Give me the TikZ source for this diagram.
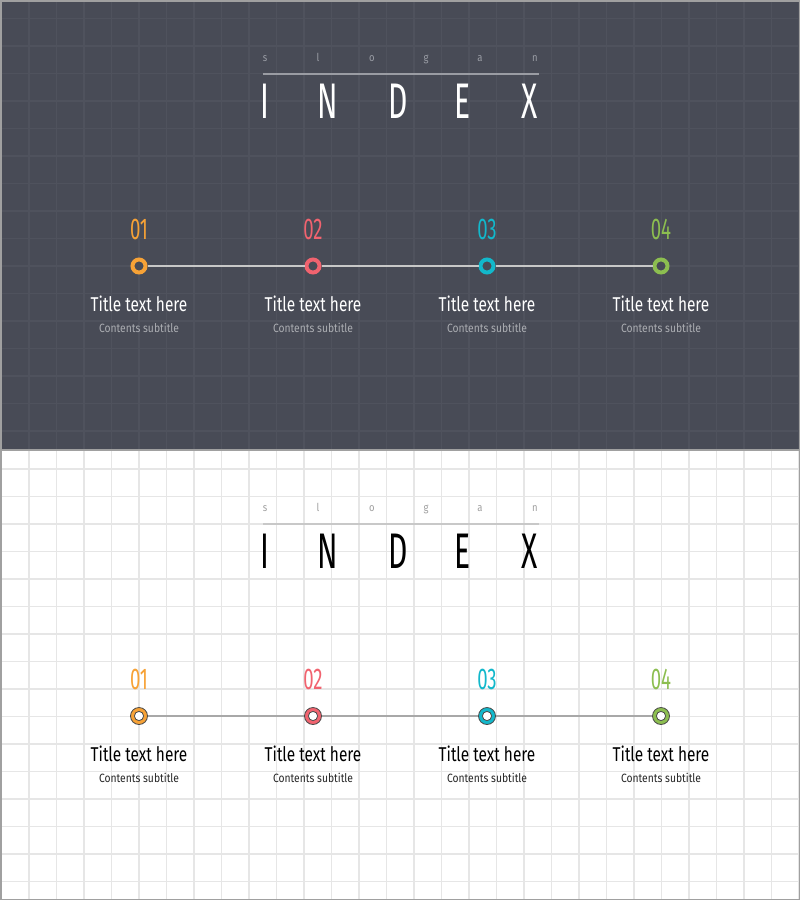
\documentclass[tikz,border=0pt]{standalone}
\usepackage{fontspec}
\setmainfont{Fira Sans}
\newfontfamily\bigf[FakeStretch=0.6]{Fira Sans}
\newfontfamily\numf[FakeStretch=0.62]{Fira Sans}
\newfontfamily\titf[FakeStretch=0.77]{Fira Sans}
\newfontfamily\subf[FakeStretch=0.86]{Fira Sans}
\definecolor{dbg}{HTML}{484B56}
\definecolor{dgrid}{HTML}{4F525D}
\definecolor{lgrid}{HTML}{E6E6E6}
\definecolor{frame}{HTML}{A0A0A0}
\definecolor{cOr}{HTML}{F7A236}
\definecolor{cPk}{HTML}{F1636F}
\definecolor{cCy}{HTML}{12B8CB}
\definecolor{cGr}{HTML}{8CBE50}
\definecolor{ringedge}{HTML}{4A4A4A}
\tikzset{
  basetext/.style={inner sep=0pt, anchor=base},
  dbig/.style={basetext, text=white, font=\bigf\fontsize{50}{50}\selectfont},
  lbig/.style={basetext, text=black, font=\bigf\fontsize{50}{50}\selectfont},
  dslog/.style={basetext, text=dslogc, font=\subf\fontsize{11}{11}\selectfont},
  lslog/.style={basetext, text=lslogc, font=\subf\fontsize{11}{11}\selectfont},
  dsline/.style={draw=dslinec, line width=2pt},
  lsline/.style={draw=lslinec, line width=2pt},
  num/.style={basetext, text=#1, font=\numf\fontsize{30}{30}\selectfont},
  dtitle/.style={basetext, text=white, font=\titf\fontsize{20}{20}\selectfont},
  ltitle/.style={basetext, text=black, font=\titf\fontsize{20}{20}\selectfont},
  dsub/.style={basetext, text=dsubc, font=\subf\fontsize{12}{12}\selectfont},
  lsub/.style={basetext, text=black!85, font=\subf\fontsize{12}{12}\selectfont},
  dtl/.style={draw=dtlc, line width=2pt},
  ltl/.style={draw=ltlc, line width=1.5pt},
  dring/.style={circle, draw=#1, line width=4pt, minimum size=13pt, inner sep=0pt, fill=dbg},
  lring/.style={circle, fill=#1, draw=ringedge, line width=0.8pt, minimum size=17pt, inner sep=0pt,
    path picture={\draw[fill=white, draw=ringedge, line width=0.8pt] (path picture bounding box.center) circle (4.6pt);}},
}
\definecolor{dslogc}{HTML}{9A9DA5}
\definecolor{lslogc}{HTML}{A0A0A0}
\definecolor{dslinec}{HTML}{9A9CA3}
\definecolor{lslinec}{HTML}{C8C8C8}
\definecolor{dsubc}{HTML}{ABADB2}
\definecolor{dtlc}{HTML}{C8C8C8}
\definecolor{ltlc}{HTML}{A8A8A8}
\newcommand\tlpanel[2]{%
  \begin{scope}[shift={(0,#2)}]
    \foreach \ch/\xx in {s/265,l/318,o/372,g/426,a/480,n/535}
      \node[#1slog] (#1sl\ch) at (\xx,61) {\ch};
    \coordinate (#1la) at (263,73.5);
    \coordinate (#1lb) at (539,73.5);
    \draw[#1sline] (#1la) -- (#1lb);
    \foreach \ch/\xx in {I/265,N/328,D/398,E/463,X/530}
      \node[#1big] (#1ix\ch) at (\xx,118) {\ch};
    \foreach \k/\xx/\cc in {1/139/cOr,2/313/cPk,3/487/cCy,4/661/cGr}{
      \node[num=\cc] (#1n\k) at (\xx,239) {0\k};
      \node[#1ring=\cc] (#1c\k) at (\xx,266) {};
      \node[#1title] (#1t\k) at (\xx,311) {Title text here};
      \node[#1sub] (#1s\k) at (\xx,332) {Contents subtitle};
    }
    \draw[#1tl] (#1c1) -- (#1c2);
    \draw[#1tl] (#1c2) -- (#1c3);
    \draw[#1tl] (#1c3) -- (#1c4);
  \end{scope}
}
\begin{document}
\begin{tikzpicture}[x=1pt,y=-1pt]
\useasboundingbox (0,0) rectangle (800,900);
\fill[dbg] (0,0) rectangle (800,450);
\fill[white] (0,450) rectangle (800,900);
\foreach \i in {1,...,29}{
  \draw[dgrid, line width=1.3pt] (1.5+27.5*\i,0) -- (1.5+27.5*\i,450);
  \draw[lgrid, line width=1.5pt] (1.5+27.5*\i,450) -- (1.5+27.5*\i,900);
}
\foreach \j in {0,...,15}{
  \draw[dgrid, line width=1.3pt] (0,18.5+27.5*\j) -- (800,18.5+27.5*\j);
  \draw[lgrid, line width=1.5pt] (0,469+27.5*\j) -- (800,469+27.5*\j);
}
\tlpanel{d}{0}
\tlpanel{l}{450}
\draw[frame, line width=1.5pt] (0,450) -- (800,450);
\draw[frame, line width=1.5pt] (0.75,0.75) rectangle (799.25,899.25);
\end{tikzpicture}
\end{document}
